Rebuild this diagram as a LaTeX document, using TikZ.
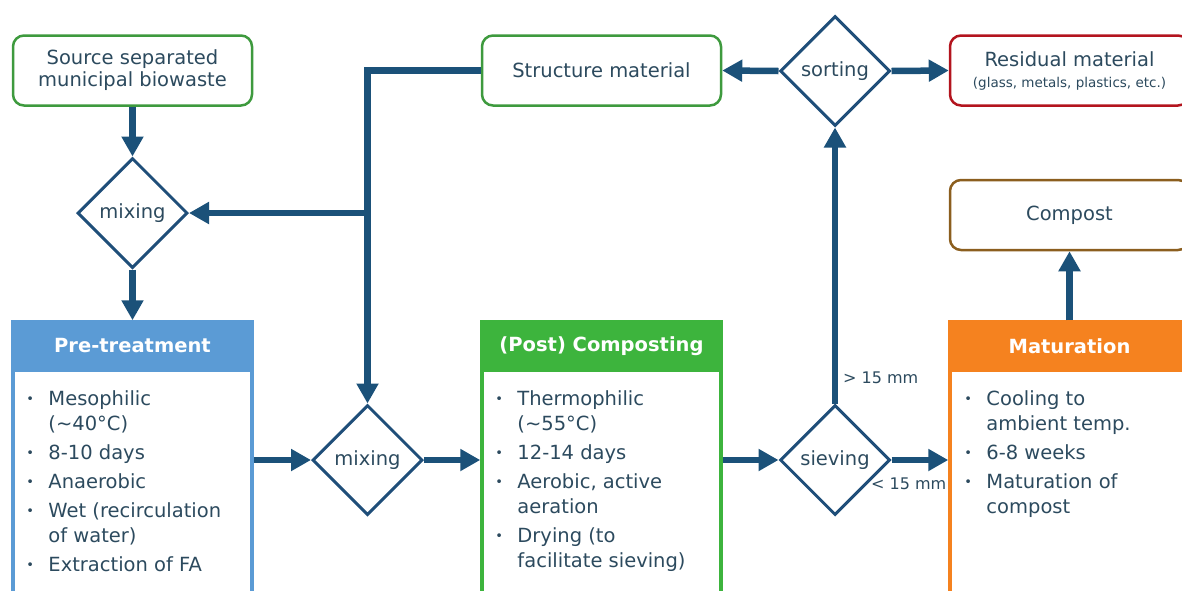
\documentclass[tikz,border=0pt]{standalone}
\usepackage{fontspec}
\setmainfont{DejaVu Sans}
\usetikzlibrary{shapes.geometric,arrows.meta}
\definecolor{arr}{HTML}{1B5179}
\definecolor{txt}{HTML}{2C4A5E}
\definecolor{bgreen}{HTML}{3E9A3E}
\definecolor{bred}{HTML}{B3141E}
\definecolor{bbrown}{HTML}{8B5E1E}
\definecolor{hblue}{HTML}{5B9BD5}
\definecolor{hgreen}{HTML}{3DB43D}
\definecolor{horange}{HTML}{F5821F}
\definecolor{dia}{HTML}{1F4E79}
\newcommand{\bul}{\makebox[22pt][l]{\fontsize{13}{13}\selectfont\raisebox{1.5pt}{•}}}
\begin{document}
\begin{tikzpicture}[x=1pt,y=-1pt,
  every node/.style={text=txt, font=\fontsize{19.5}{22}\selectfont},
  rbox/.style={draw, rounded corners=11pt, line width=2.5pt, minimum width=239pt, minimum height=70pt, align=center, inner sep=0pt, fill=white},
  dmd/.style={diamond, draw=dia, line width=3pt, minimum width=110pt, minimum height=110pt, inner sep=0pt, aspect=1},
  bigbox/.style={draw, line width=3.5pt, minimum width=239pt, minimum height=276pt, inner sep=0pt},
  hdr/.style={anchor=north, minimum width=239pt, minimum height=48pt, inner sep=0pt, line width=3.5pt, text=white, font=\fontsize{19.5}{22}\selectfont\bfseries},
  blist/.style={anchor=north west, inner sep=0pt, align=left, font=\fontsize{19.5}{25}\selectfont},
  flow/.style={draw=arr, line width=6.5pt, line join=miter, -{Triangle[length=20pt,width=21pt]}},
  lbl/.style={font=\fontsize{16}{18}\selectfont, inner sep=0pt}
]
\useasboundingbox (0,0) rectangle (1182,590);
\clip (0,0) rectangle (1182,590);

\node[rbox, draw=bgreen] (src) at (132.5,70.5) {Source separated\\municipal biowaste};
\node[dmd] (mix1) at (132.5,213) {mixing};
\node[bigbox, draw=hblue] (pre) at (132.5,460) {};
\node[hdr, fill=hblue, draw=hblue] (preh) at (pre.north) {Pre-treatment};

\node[rbox, draw=bgreen] (struct) at (601.5,70.5) {Structure material};
\node[dmd] (sort) at (835,71) {sorting};
\node[rbox, draw=bred] (resid) at (1069.5,70.5) {Residual material\\[-1pt]{\fontsize{13.5}{14}\selectfont (glass, metals, plastics, etc.)}};
\node[rbox, draw=bbrown] (comp) at (1069.5,215) {Compost};

\node[dmd] (mix2) at (367.5,460) {mixing};
\node[bigbox, draw=hgreen] (post) at (601.5,460) {};
\node[hdr, fill=hgreen, draw=hgreen] (posth) at (post.north) {(Post) Composting};
\node[dmd] (sieve) at (835,460) {sieving};
\node[bigbox, draw=horange] (mat) at (1069.5,460) {};
\node[hdr, fill=horange, draw=horange] (math) at (mat.north) {Maturation};

\node[blist] (prel) at ([xshift=15pt, yshift=-67.5pt]pre.north west) {%
\begin{tabular}{@{}l@{}l@{}}
\bul & Mesophilic\\ & (\textasciitilde 40°C)\\[4pt]
\bul & 8-10 days\\[4pt]
\bul & Anaerobic\\[4pt]
\bul & Wet (recirculation\\ & of water)\\[4pt]
\bul & Extraction of FA
\end{tabular}};

\node[blist] (postl) at ([xshift=15pt, yshift=-67.5pt]post.north west) {%
\begin{tabular}{@{}l@{}l@{}}
\bul & Thermophilic\\ & (\textasciitilde 55°C)\\[4pt]
\bul & 12-14 days\\[4pt]
\bul & Aerobic, active\\ & aeration\\[4pt]
\bul & Drying (to\\ & facilitate sieving)
\end{tabular}};

\node[blist] (matl) at ([xshift=16pt, yshift=-67.5pt]mat.north west) {%
\begin{tabular}{@{}l@{}l@{}}
\bul & Cooling to\\ & ambient temp.\\[4pt]
\bul & 6-8 weeks\\[4pt]
\bul & Maturation of\\ & compost
\end{tabular}};

\node[lbl, anchor=west] (gt) at (843,378) {> 15 mm};
\node[lbl, anchor=west] (lt) at (871,484) {< 15 mm};

\draw[flow] (src.south) -- (mix1.north);
\draw[flow] (mix1.south) -- (pre.north);
\draw[flow] (sort.west) -- (struct.east);
\draw[flow] (sort.east) -- (resid.west);
\draw[flow] (struct.west) -| (mix2.north);
\coordinate (jn) at (mix2.north |- mix1.east);
\draw[flow] (jn) -- (mix1.east);
\draw[flow] (pre.east) -- (mix2.west);
\draw[flow] (mix2.east) -- (post.west);
\draw[flow] (post.east) -- (sieve.west);
\draw[flow] (sieve.east) -- (mat.west);
\draw[flow] (sieve.north) -- (sort.south);
\draw[flow] (mat.north) -- (comp.south);
\end{tikzpicture}
\end{document}
